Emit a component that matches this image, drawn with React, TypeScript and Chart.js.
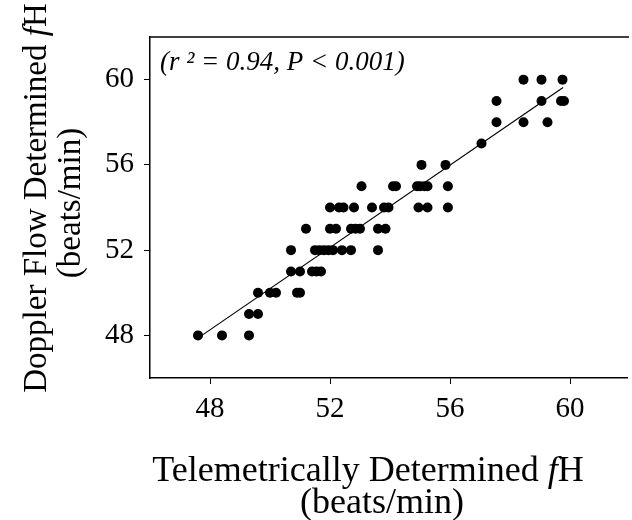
import React, { useEffect, useRef } from "react";
import { Chart, registerables } from "chart.js";

Chart.register(...registerables);

// Scatter data: telemetric fH (x) vs Doppler flow fH (y), beats/min
const telemetryX: number[] = [
  47.6, 48.4, 49.3,
  49.3, 49.6,
  49.6, 50.0, 50.2, 50.9, 51.0,
  50.7, 51.0, 51.4, 51.55, 51.7,
  50.7, 51.5, 51.65, 51.8, 51.95, 52.1, 52.4, 52.7, 53.6,
  51.2, 52.0, 52.2, 52.7, 52.85, 53.0, 53.6, 53.85,
  52.0, 52.3, 52.45, 52.8, 53.4, 53.8, 53.95, 54.95, 55.25, 55.93,
  53.05, 54.1, 54.2, 54.9, 55.0, 55.15, 55.25, 55.93,
  55.05, 55.85,
  57.05,
  57.55, 58.45, 59.25,
  57.55, 59.05, 59.7, 59.8,
  58.45, 59.05, 59.75,
];
const dopplerY: number[] = [
  48, 48, 48,
  49, 49,
  50, 50, 50, 50, 50,
  51, 51, 51, 51, 51,
  52, 52, 52, 52, 52, 52, 52, 52, 52,
  53, 53, 53, 53, 53, 53, 53, 53,
  54, 54, 54, 54, 54, 54, 54, 54, 54, 54,
  55, 55, 55, 55, 55, 55, 55, 55,
  56, 56,
  57,
  58, 58, 58,
  59, 59, 59, 59,
  60, 60, 60,
];
// Regression line end points
const fitX: number[] = [47.73, 59.77];
const fitY: number[] = [48.0, 59.63];

const xTicks: number[] = [48, 52, 56, 60];
const yTicks: number[] = [48, 52, 56, 60];

const annotationText = "(r \u00B2 = 0.94, P < 0.001)";
const xTitleParts = ["Telemetrically Determined ", "f", "H"];
const yTitleParts = ["Doppler Flow Determined ", "f", "H"];
const unitsText = "(beats/min)";

const SERIF = "'Liberation Serif', 'Times New Roman', serif";

function drawMixed(ctx: CanvasRenderingContext2D, parts: string[], cx: number, y: number, size: number) {
  const normal = `${size}px ${SERIF}`;
  const italic = `italic ${size}px ${SERIF}`;
  const fonts = [normal, italic, normal];
  let total = 0;
  const widths = parts.map((p, i) => {
    ctx.font = fonts[i];
    const w = ctx.measureText(p).width;
    total += w;
    return w;
  });
  let x = cx - total / 2;
  parts.forEach((p, i) => {
    ctx.font = fonts[i];
    ctx.fillText(p, x, y);
    x += widths[i];
  });
}

const decorPlugin = {
  id: "decor",
  afterDraw(chart: any) {
    const ctx: CanvasRenderingContext2D = chart.ctx;
    const { left, right, top } = chart.chartArea;
    ctx.save();
    // top frame line
    ctx.strokeStyle = "#000";
    ctx.lineWidth = 1.5;
    ctx.beginPath();
    ctx.moveTo(left, top);
    ctx.lineTo(right + 2, top);
    ctx.stroke();

    ctx.fillStyle = "#000";
    ctx.textBaseline = "alphabetic";
    ctx.textAlign = "left";
    // annotation
    ctx.font = `italic 27px ${SERIF}`;
    ctx.fillText(annotationText, left + 10, top + 33);

    // x title
    drawMixed(ctx, xTitleParts, 368, 481, 36);
    ctx.font = `36px ${SERIF}`;
    ctx.textAlign = "center";
    ctx.fillText(unitsText, 382, 513);
    ctx.textAlign = "left";

    // y title (rotated)
    ctx.save();
    ctx.translate(46, 198);
    ctx.rotate(-Math.PI / 2);
    drawMixed(ctx, yTitleParts, 0, 0, 33);
    ctx.restore();
    ctx.save();
    ctx.translate(80, 203);
    ctx.rotate(-Math.PI / 2);
    ctx.font = `33px ${SERIF}`;
    ctx.textAlign = "center";
    ctx.fillText(unitsText, 0, 0);
    ctx.restore();

    ctx.restore();
  },
};

export default function App() {
  const ref = useRef<HTMLCanvasElement | null>(null);

  useEffect(() => {
    if (!ref.current) return;
    const points = telemetryX.map((x, i) => ({ x, y: dopplerY[i] }));
    const line = fitX.map((x, i) => ({ x, y: fitY[i] }));
    const chart = new Chart(ref.current, {
      type: "scatter",
      data: {
        datasets: [
          {
            type: "line",
            data: line,
            borderColor: "#000",
            borderWidth: 1.2,
            pointRadius: 0,
            fill: false,
            order: 2,
          } as any,
          {
            data: points,
            backgroundColor: "#000",
            borderColor: "#000",
            pointRadius: 5,
            pointHoverRadius: 5,
            borderWidth: 0,
            order: 1,
          },
        ],
      },
      options: {
        animation: false,
        responsive: false,
        events: [],
        layout: { padding: { left: 0, top: 37, right: 1, bottom: 82 } },
        plugins: {
          legend: { display: false },
          tooltip: { enabled: false },
        },
        scales: {
          x: {
            type: "linear",
            min: 46,
            max: 61.9,
            afterBuildTicks: (scale: any) => {
              scale.ticks = xTicks.map((v) => ({ value: v }));
            },
            afterFit: (scale: any) => {
              scale.height = 60;
            },
            ticks: {
              color: "#000",
              font: { family: SERIF, size: 29 },
              padding: 8,
              maxRotation: 0,
            },
            grid: {
              drawOnChartArea: false,
              drawTicks: true,
              tickLength: 6,
              color: "#000",
              lineWidth: 1,
            },
            border: { display: true, color: "#000", width: 1.5 },
          },
          y: {
            type: "linear",
            min: 46,
            max: 62,
            afterBuildTicks: (scale: any) => {
              scale.ticks = yTicks.map((v) => ({ value: v }));
            },
            afterFit: (scale: any) => {
              scale.width = 150;
            },
            ticks: {
              color: "#000",
              font: { family: SERIF, size: 29 },
              padding: 10,
            },
            grid: {
              drawOnChartArea: false,
              drawTicks: true,
              tickLength: 6,
              color: "#000",
              lineWidth: 1,
            },
            border: { display: true, color: "#000", width: 1.5 },
          },
        },
      },
      plugins: [decorPlugin],
    });
    return () => chart.destroy();
  }, []);

  return (
    <div style={{ position: "fixed", left: 0, top: 0, width: 632, height: 520, background: "#fff" }}>
      <canvas ref={ref} width={632} height={520} />
    </div>
  );
}
